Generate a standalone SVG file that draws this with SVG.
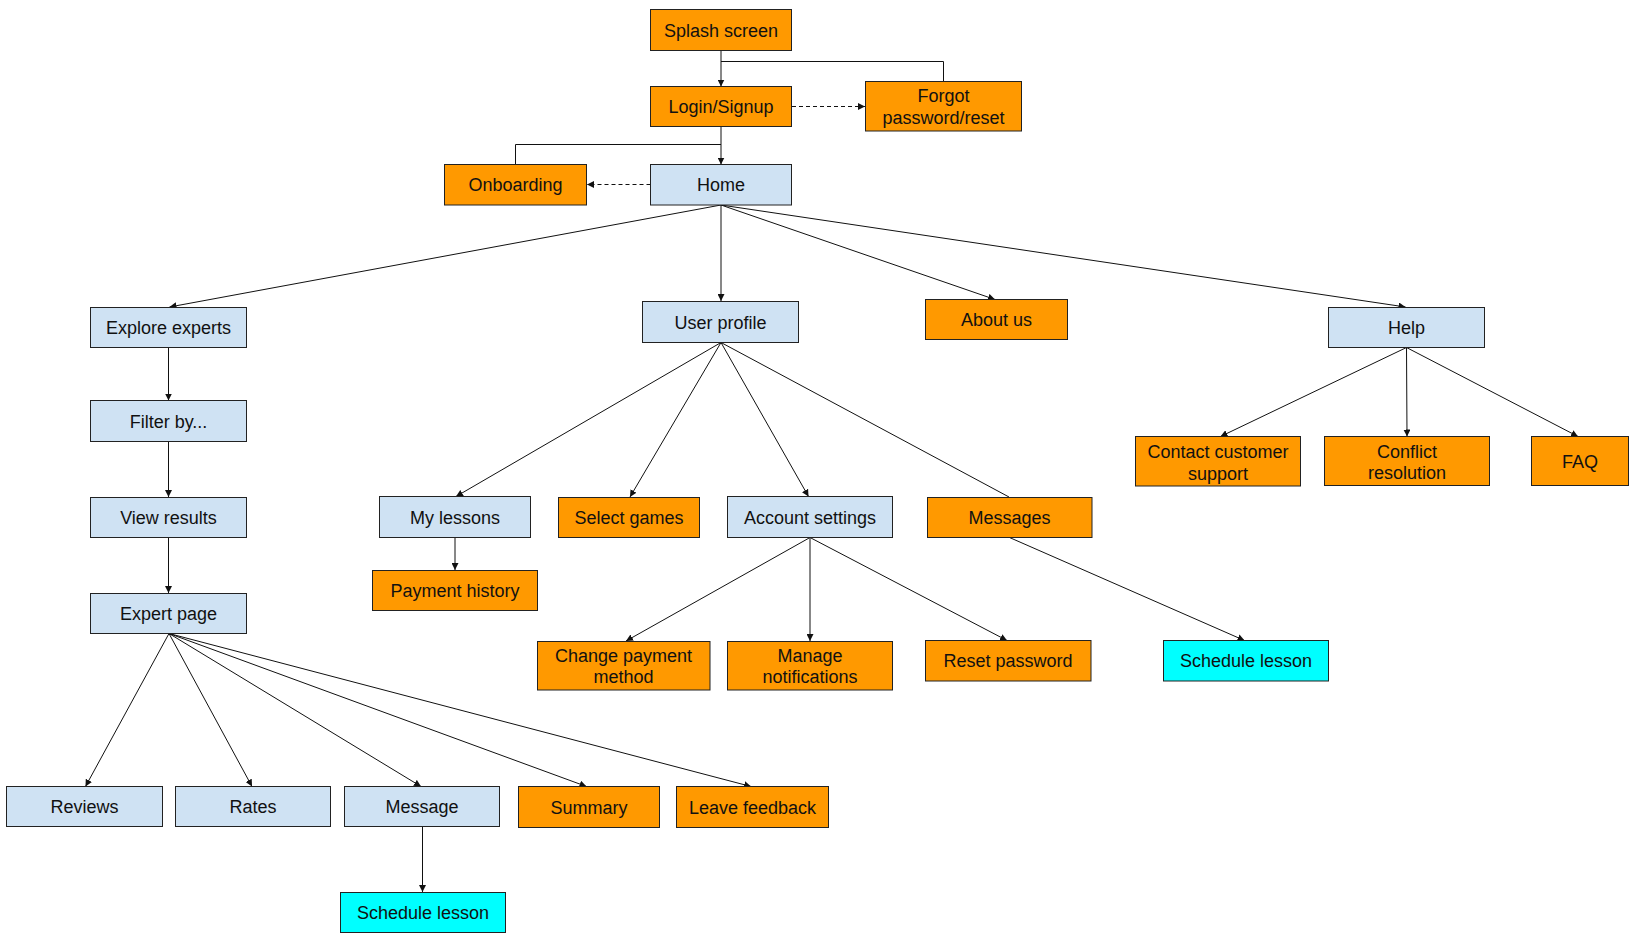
<svg xmlns="http://www.w3.org/2000/svg" width="1644" height="941" viewBox="0 0 1644 941">
<style>
.n rect{stroke:#222;stroke-width:1}
.o rect{fill:#ff9900}
.b rect{fill:#cfe2f3}
.c rect{fill:#00ffff}
.n text{font-family:"Liberation Sans",Arial,sans-serif;font-size:18px;fill:#111;text-anchor:middle}
#connectors line,#connectors polyline{stroke:#111;stroke-width:1;fill:none}
#connectors .d{stroke-dasharray:4 3}
</style>
<defs>
<marker id="ar" viewBox="0 0 10 10" refX="10" refY="5" markerWidth="7" markerHeight="7" markerUnits="userSpaceOnUse" orient="auto">
<path d="M0,0 L10,5 L0,10 z" fill="#111"/>
</marker>
</defs>
<rect width="1644" height="941" fill="#fff"/>
<g id="connectors">
<line x1="721" y1="50.5" x2="721" y2="86.5" marker-end="url(#ar)"/>
<polyline points="721,61.5 943.5,61.5 943.5,81"/>
<line class="d" x1="792" y1="106.5" x2="865" y2="106.5" marker-end="url(#ar)"/>
<line x1="721" y1="126.5" x2="721" y2="164.5" marker-end="url(#ar)"/>
<polyline points="721,144.5 515.5,144.5 515.5,164.5"/>
<line class="d" x1="650.5" y1="184.5" x2="587" y2="184.5" marker-end="url(#ar)"/>
<line x1="721" y1="205" x2="169.5" y2="307" marker-end="url(#ar)"/>
<line x1="721" y1="205" x2="721" y2="301" marker-end="url(#ar)"/>
<line x1="721" y1="205" x2="995" y2="299.5" marker-end="url(#ar)"/>
<line x1="721" y1="205" x2="1405.5" y2="307" marker-end="url(#ar)"/>
<line x1="168.5" y1="347.5" x2="168.5" y2="400.5" marker-end="url(#ar)"/>
<line x1="168.5" y1="441.5" x2="168.5" y2="497" marker-end="url(#ar)"/>
<line x1="168.5" y1="537.5" x2="168.5" y2="593" marker-end="url(#ar)"/>
<line x1="721" y1="342.5" x2="456" y2="496.5" marker-end="url(#ar)"/>
<line x1="721" y1="342.5" x2="630" y2="497" marker-end="url(#ar)"/>
<line x1="721" y1="342.5" x2="808.5" y2="496.5" marker-end="url(#ar)"/>
<line x1="721" y1="342.5" x2="1009" y2="497"/>
<line x1="455" y1="537.5" x2="455" y2="570" marker-end="url(#ar)"/>
<line x1="810" y1="537.5" x2="626" y2="641" marker-end="url(#ar)"/>
<line x1="810" y1="537.5" x2="810" y2="641" marker-end="url(#ar)"/>
<line x1="810" y1="537.5" x2="1007" y2="640.5" marker-end="url(#ar)"/>
<line x1="1009.5" y1="537.5" x2="1244.5" y2="640.5" marker-end="url(#ar)"/>
<line x1="1406.5" y1="347.5" x2="1220.5" y2="436.5" marker-end="url(#ar)"/>
<line x1="1406.5" y1="347.5" x2="1407" y2="436.5" marker-end="url(#ar)"/>
<line x1="1406.5" y1="347.5" x2="1578" y2="436.5" marker-end="url(#ar)"/>
<line x1="169" y1="633.5" x2="85.5" y2="786.5" marker-end="url(#ar)"/>
<line x1="169" y1="633.5" x2="252" y2="786.5" marker-end="url(#ar)"/>
<line x1="169" y1="633.5" x2="421" y2="786.5" marker-end="url(#ar)"/>
<line x1="169" y1="633.5" x2="586.5" y2="786.5" marker-end="url(#ar)"/>
<line x1="169" y1="633.5" x2="751" y2="786.5" marker-end="url(#ar)"/>
<line x1="422.5" y1="826.5" x2="422.5" y2="892" marker-end="url(#ar)"/>
</g>
<g id="splash" class="n o"><rect x="650.5" y="9.5" width="141" height="41"/><text x="721" y="36.5">Splash screen</text></g>
<g id="login" class="n o"><rect x="650.5" y="86.5" width="141" height="40"/><text x="721" y="113">Login/Signup</text></g>
<g id="forgot" class="n o"><rect x="865.5" y="81.5" width="156" height="49.5"/><text x="943.5" y="102">Forgot</text><text x="943.5" y="124">password/reset</text></g>
<g id="onboarding" class="n o"><rect x="444.5" y="164.5" width="142" height="40.5"/><text x="515.5" y="191">Onboarding</text></g>
<g id="home" class="n b"><rect x="650.5" y="164.5" width="141" height="40.5"/><text x="721" y="191">Home</text></g>
<g id="explore" class="n b"><rect x="90.5" y="307.5" width="156" height="40"/><text x="168.5" y="334">Explore experts</text></g>
<g id="filter" class="n b"><rect x="90.5" y="400.5" width="156" height="41"/><text x="168.5" y="427.5">Filter by...</text></g>
<g id="results" class="n b"><rect x="90.5" y="497.5" width="156" height="40"/><text x="168.5" y="524">View results</text></g>
<g id="expert" class="n b"><rect x="90.5" y="593.5" width="156" height="40"/><text x="168.5" y="620">Expert page</text></g>
<g id="profile" class="n b"><rect x="642.5" y="301.5" width="156" height="41"/><text x="720.5" y="328.5">User profile</text></g>
<g id="about" class="n o"><rect x="925.5" y="299.5" width="142" height="40"/><text x="996.5" y="326">About us</text></g>
<g id="help" class="n b"><rect x="1328.5" y="307.5" width="156" height="40"/><text x="1406.5" y="334">Help</text></g>
<g id="contact" class="n o"><rect x="1135.5" y="436.5" width="165" height="49.5"/><text x="1218" y="457.5">Contact customer</text><text x="1218" y="479.5">support</text></g>
<g id="conflict" class="n o"><rect x="1324.5" y="436.5" width="165" height="49"/><text x="1407" y="457.5">Conflict</text><text x="1407" y="479">resolution</text></g>
<g id="faq" class="n o"><rect x="1531.5" y="436.5" width="97" height="49"/><text x="1580" y="467.5">FAQ</text></g>
<g id="mylessons" class="n b"><rect x="379.5" y="496.5" width="151" height="41"/><text x="455" y="523.5">My lessons</text></g>
<g id="selectgames" class="n o"><rect x="558.5" y="497.5" width="141" height="40"/><text x="629" y="524">Select games</text></g>
<g id="account" class="n b"><rect x="727.5" y="496.5" width="165" height="41"/><text x="810" y="523.5">Account settings</text></g>
<g id="messages" class="n o"><rect x="927.5" y="497.5" width="164.5" height="40"/><text x="1009.5" y="524">Messages</text></g>
<g id="payhistory" class="n o"><rect x="372.5" y="570.5" width="165" height="40"/><text x="455" y="597">Payment history</text></g>
<g id="changepay" class="n o"><rect x="537.5" y="641.5" width="172.5" height="48.5"/><text x="623.5" y="661.5">Change payment</text><text x="623.5" y="683">method</text></g>
<g id="notifications" class="n o"><rect x="727.5" y="641.5" width="165" height="48.5"/><text x="810" y="661.5">Manage</text><text x="810" y="683">notifications</text></g>
<g id="resetpw" class="n o"><rect x="925.5" y="640.5" width="165.5" height="40.5"/><text x="1008" y="667">Reset password</text></g>
<g id="schedule2" class="n c"><rect x="1163.5" y="640.5" width="165" height="40.5"/><text x="1246" y="667">Schedule lesson</text></g>
<g id="reviews" class="n b"><rect x="6.5" y="786.5" width="156" height="40"/><text x="84.5" y="813">Reviews</text></g>
<g id="rates" class="n b"><rect x="175.5" y="786.5" width="155" height="40"/><text x="253" y="813">Rates</text></g>
<g id="message" class="n b"><rect x="344.5" y="786.5" width="155" height="40"/><text x="422" y="813">Message</text></g>
<g id="summary" class="n o"><rect x="518.5" y="786.5" width="141" height="41"/><text x="589" y="813.5">Summary</text></g>
<g id="feedback" class="n o"><rect x="676.5" y="786.5" width="152" height="41"/><text x="752.5" y="813.5">Leave feedback</text></g>
<g id="schedule1" class="n c"><rect x="340.5" y="892.5" width="165" height="40"/><text x="423" y="919">Schedule lesson</text></g>
</svg>
